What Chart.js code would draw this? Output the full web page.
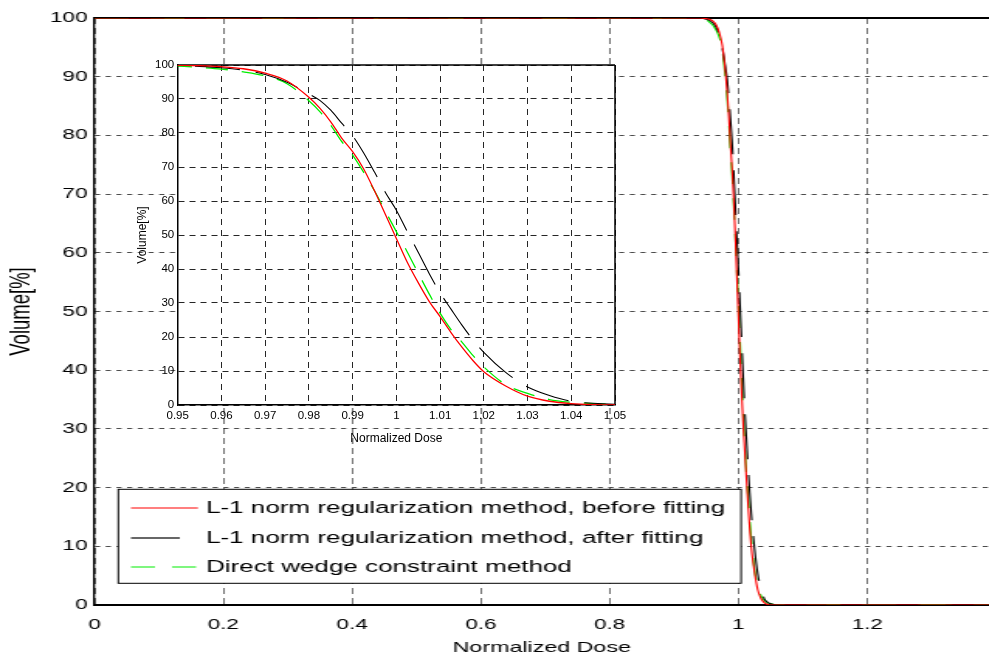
<!DOCTYPE html>
<html>
<head>
<meta charset="utf-8">
<title>Dose volume histogram</title>
<script src="https://cdn.jsdelivr.net/npm/chart.js@4.4.1/dist/chart.umd.min.js"></script>
<style>
    html, body { margin: 0; padding: 0; background: #fff; overflow: hidden; }
    #wrap { position: relative; width: 989px; height: 659px; }
    /* the reference figure is stretched sideways, so the main plot is too */
    #main-chart { position: absolute; left: 0; top: 0; transform: scaleX(1.55); transform-origin: 0 0; }
    #inset-chart { position: absolute; left: 120px; top: 50px; }
</style>
</head>
<body>
<div id="wrap">
    <canvas id="main-chart" width="638" height="659"></canvas>
    <canvas id="inset-chart" width="515" height="400"></canvas>
</div>
<script>
const doseValues = [0, 0.94, 0.95, 0.955, 0.96, 0.965, 0.97, 0.975, 0.98, 0.9825, 0.985, 0.9875,
    0.99, 0.9925, 0.995, 0.9975, 1.0, 1.0025, 1.005, 1.0075, 1.01, 1.0125, 1.015, 1.0175,
    1.02, 1.025, 1.03, 1.035, 1.04, 1.045, 1.05, 1.06, 1.39];

const volumeBeforeFit = [100, 100, 99.9, 99.8, 99.5, 98.9, 97.6, 95.3, 90.5, 87.3, 83.3, 78.5,
    74.5, 69.5, 63, 56, 49, 42, 36, 30.5, 26, 21.3, 17, 13.1,
    9.8, 5.6, 2.6, 1.1, 0.4, 0.1, 0, 0, 0];

const volumeAfterFit = [100, 100, 99.8, 99.6, 99.2, 98.5, 97.2, 94.9, 91.5, 89.6, 86.7, 82.9,
    79.2, 74.2, 68.5, 62.5, 57.3, 51, 44.9, 38.7, 33, 28.2, 23.5, 19.2,
    15.5, 9.6, 5.3, 2.8, 1.1, 0.5, 0.2, 0, 0];

const volumeDirectWedge = [100, 100, 99.7, 99.3, 98.8, 98.0, 96.8, 94.5, 89.5, 86.3, 82.3, 77.5,
    73.5, 68.5, 63, 57, 51, 45, 38.8, 32.7, 27, 22.2, 18.5, 14.6,
    11.2, 6.0, 3.4, 1.6, 0.8, 0.4, 0.2, 0, 0];

const seriesLabels = [
    'L-1 norm regularization method, before fitting',
    'L-1 norm regularization method, after fitting',
    'Direct wedge constraint method',
];

const mainDoseTicks = [0, 0.2, 0.4, 0.6, 0.8, 1, 1.2];
const insetDoseTicks = [0.95, 0.96, 0.97, 0.98, 0.99, 1, 1.01, 1.02, 1.03, 1.04, 1.05];
const volumeTicks = [0, 10, 20, 30, 40, 50, 60, 70, 80, 90, 100];

const FONT = '"Liberation Sans", Arial, Helvetica, sans-serif';
Chart.defaults.font.family = FONT;
Chart.defaults.color = '#000';

function toPoints(volumes) {
    return doseValues.map((d, i) => ({ x: d, y: volumes[i] }));
}

function makeDatasets(widths) {
    return [
        {
            label: seriesLabels[0],
            data: toPoints(volumeBeforeFit),
            borderColor: '#ff0000',
            borderWidth: widths[0],
        },
        {
            label: seriesLabels[1],
            data: toPoints(volumeAfterFit),
            borderColor: '#000000',
            borderWidth: widths[1],
            borderDash: [45, 16],
        },
        {
            label: seriesLabels[2],
            data: toPoints(volumeDirectWedge),
            borderColor: '#00ee00',
            borderWidth: widths[2],
            borderDash: [22, 14],
        },
    ].map((ds) => ({
        ...ds,
        pointRadius: 0,
        fill: false,
        cubicInterpolationMode: 'monotone',
    }));
}

// white plot background and the top/right box lines matlab draws
const plotFrame = {
    id: 'plotFrame',
    beforeDraw(chart, args, opts) {
        const { ctx, chartArea: a } = chart;
        ctx.save();
        ctx.fillStyle = '#fff';
        if (opts.areaOnly) {
            ctx.fillRect(a.left, a.top, a.right - a.left, a.bottom - a.top);
        } else {
            ctx.fillRect(0, 0, chart.width, chart.height);
        }
        ctx.restore();
    },
    beforeDatasetsDraw(chart, args, opts) {
        const { ctx, chartArea: a } = chart;
        ctx.save();
        ctx.strokeStyle = '#000';
        ctx.lineWidth = opts.width;
        ctx.beginPath();
        ctx.moveTo(a.left, a.top);
        ctx.lineTo(a.right, a.top);
        if (opts.right) {
            ctx.moveTo(a.right, a.top);
            ctx.lineTo(a.right, a.bottom);
        }
        ctx.stroke();
        ctx.restore();
    },
};

// boxed legend inside the plot, bottom left
const boxLegend = {
    id: 'boxLegend',
    afterDraw(chart, args, opts) {
        if (!opts.box) {
            return;
        }
        const { ctx } = chart;
        const b = opts.box;
        ctx.save();
        ctx.fillStyle = '#fff';
        ctx.fillRect(b.left, b.top, b.right - b.left, b.bottom - b.top);
        ctx.strokeStyle = '#000';
        ctx.lineWidth = 1;
        ctx.strokeRect(b.left, b.top, b.right - b.left, b.bottom - b.top);
        ctx.font = opts.font;
        ctx.textBaseline = 'middle';
        chart.data.datasets.forEach((ds, i) => {
            const y = opts.rows[i];
            ctx.strokeStyle = ds.borderColor;
            ctx.lineWidth = 1.2;
            ctx.setLineDash(opts.dashes[i]);
            ctx.beginPath();
            ctx.moveTo(opts.lineStart, y);
            ctx.lineTo(opts.lineEnd, y);
            ctx.stroke();
            ctx.setLineDash([]);
            ctx.fillStyle = '#000';
            ctx.fillText(ds.label, opts.textX, y);
        });
        ctx.restore();
    },
};

const mainChart = new Chart(document.getElementById('main-chart'), {
    type: 'line',
    data: { datasets: makeDatasets([1.1, 1.1, 1.1]) },
    plugins: [plotFrame, boxLegend],
    options: {
        responsive: false,
        animation: false,
        layout: { padding: { top: 18, right: 0, bottom: 0, left: 0 } },
        plugins: {
            legend: { display: false },
            tooltip: { enabled: false },
            plotFrame: { areaOnly: false, width: 2, right: false },
            boxLegend: {
                box: { left: 76.3, top: 489.3, right: 478.1, bottom: 583.3 },
                rows: [508, 538, 567],
                lineStart: 84.5,
                lineEnd: 127.7,
                textX: 132.9,
                font: '16.8px ' + FONT,
                dashes: [[], [31.5, 20], [15.5, 11]],
            },
        },
        scales: {
            x: {
                type: 'linear',
                min: 0,
                max: 1.389,
                afterBuildTicks: (s) => { s.ticks = mainDoseTicks.map((v) => ({ value: v })); },
                afterFit: (s) => { s.height = 54; },
                ticks: { font: { size: 14.5 }, padding: 11, callback: (v) => String(v) },
                grid: { color: 'rgba(0,0,0,0.7)', lineWidth: 0.8, drawTicks: false },
                border: { color: '#000', width: 2, dash: [6, 4] },
                title: { display: true, text: 'Normalized Dose', font: { size: 15 }, padding: { top: 0, bottom: 2 } },
            },
            y: {
                min: 0,
                max: 100,
                afterBuildTicks: (s) => { s.ticks = volumeTicks.map((v) => ({ value: v })); },
                afterFit: (s) => { s.width = 61; },
                ticks: { font: { size: 14.5 }, padding: 4.5 },
                grid: { color: 'rgba(0,0,0,0.7)', lineWidth: 1, drawTicks: false },
                border: { color: '#000', width: 1.3, dash: [3.3, 3.6] },
                title: { display: true, text: 'Volume[%]', font: { size: 18.5 }, padding: { top: 3, bottom: 0 } },
            },
        },
    },
});

const insetChart = new Chart(document.getElementById('inset-chart'), {
    type: 'line',
    data: { datasets: makeDatasets([1.3, 1.1, 1.3]) },
    plugins: [plotFrame],
    options: {
        responsive: false,
        animation: false,
        layout: { padding: { top: 15, right: 20, bottom: 0, left: 0 } },
        plugins: {
            legend: { display: false },
            tooltip: { enabled: false },
            plotFrame: { areaOnly: true, width: 1.5, right: true },
        },
        scales: {
            x: {
                type: 'linear',
                min: 0.95,
                max: 1.05,
                afterBuildTicks: (s) => { s.ticks = insetDoseTicks.map((v) => ({ value: v })); },
                afterFit: (s) => { s.height = 45; },
                ticks: { font: { size: 11.5 }, padding: 4, callback: (v) => String(v) },
                grid: { color: 'rgba(0,0,0,0.85)', lineWidth: 1, drawTicks: false },
                border: { color: '#000', width: 1.5, dash: [6, 5] },
                title: { display: true, text: 'Normalized Dose', font: { size: 12 }, padding: { top: 0, bottom: 4 } },
            },
            y: {
                min: 0,
                max: 100,
                afterBuildTicks: (s) => { s.ticks = volumeTicks.map((v) => ({ value: v })); },
                afterFit: (s) => { s.width = 57.7; },
                ticks: { font: { size: 11.5 }, padding: 3.5 },
                grid: { color: 'rgba(0,0,0,0.85)', lineWidth: 1, drawTicks: false },
                border: { color: '#000', width: 1.5, dash: [6, 5] },
                title: { display: true, text: 'Volume[%]', font: { size: 12 }, padding: { top: 15, bottom: 0 } },
            },
        },
    },
});
</script>
</body>
</html>
